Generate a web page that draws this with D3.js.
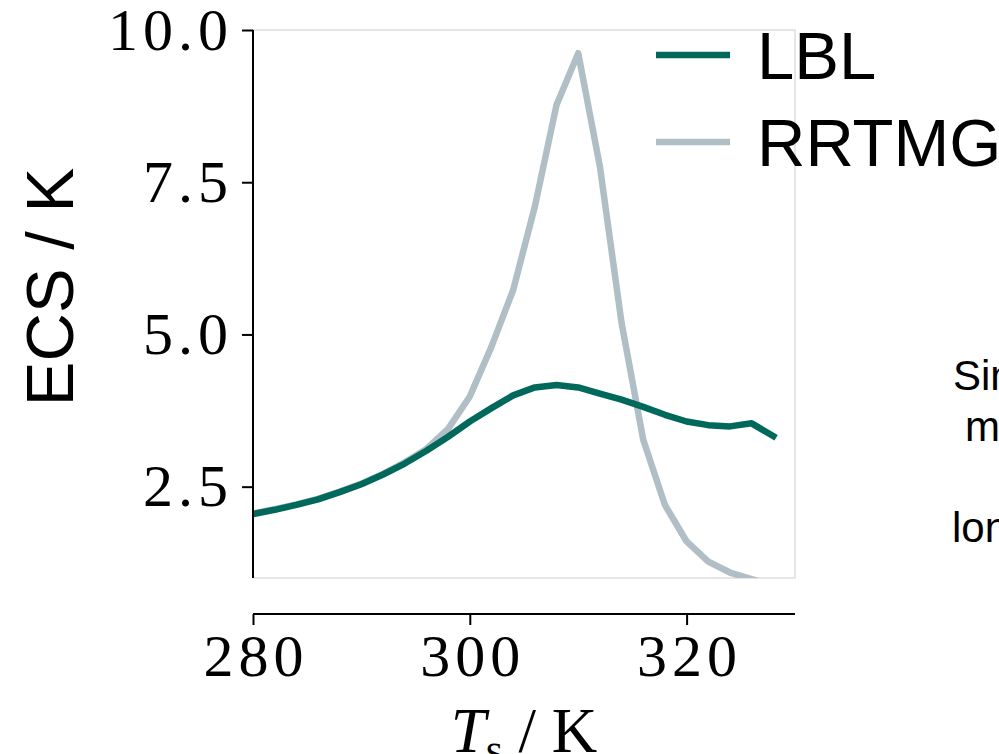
<!DOCTYPE html>
<html>
<head>
<meta charset="utf-8">
<script src="https://cdn.jsdelivr.net/npm/d3@7/dist/d3.min.js"></script>
<style>
  html, body { margin: 0; padding: 0; background: #fff; overflow: hidden; }
</style>
</head>
<body>
<div id="chart"></div>
<script>
// surface temperature (K)
const temps = [280, 282, 284, 286, 288, 290, 292, 294, 296, 298, 300, 302, 304,
               306, 308, 310, 312, 314, 316, 318, 320, 322, 324, 326, 328];
// ECS (K) per scheme
const lbl = [2.05, 2.12, 2.20, 2.29, 2.41, 2.54, 2.70, 2.88, 3.09, 3.32, 3.57, 3.79, 4.00,
             4.13, 4.17, 4.13, 4.03, 3.93, 3.81, 3.68, 3.57, 3.51, 3.49, 3.54, 3.33];
const rrtmg = [2.06, 2.13, 2.21, 2.30, 2.42, 2.55, 2.71, 2.90, 3.12, 3.45, 3.98, 4.80, 5.73,
               7.10, 8.77, 9.62, 7.76, 5.19, 3.27, 2.20, 1.60, 1.27, 1.09, 0.98, 0.88];
const seriesNames = ["LBL", "RRTMG"];
const seriesColors = ["#00695c", "#b0bec5"];
const xTicks = [280, 300, 320];
const yTicks = [2.5, 5.0, 7.5, 10.0];
const sideText = ["Sin", "m", "", "lon"];

const W = 999, H = 754;
const margin = { top: 30, left: 253, right: 204, bottom: 176 };
const width = W - margin.left - margin.right;
const height = H - margin.top - margin.bottom;
const serif = "'Liberation Serif', 'Times New Roman', serif";
const sans = "'Liberation Sans', Arial, Helvetica, sans-serif";

var svg = d3.select("#chart").append("svg")
    .attr("width", W)
    .attr("height", H)
    .style("display", "block");

var g = svg.append("g")
    .attr("transform", "translate(" + margin.left + "," + margin.top + ")");

var x = d3.scaleLinear().domain([280, 330]).range([0, width]);
var y = d3.scaleLinear().domain([1, 10]).range([height, 0]);

// light frame around the axes area
g.append("rect")
    .attr("width", width)
    .attr("height", height)
    .attr("fill", "none")
    .attr("stroke", "#cccccc")
    .attr("stroke-width", 1);

svg.append("defs").append("clipPath")
    .attr("id", "plot-clip")
    .append("rect")
    .attr("width", width)
    .attr("height", height);

var data = [lbl, rrtmg].map((vals, i) => ({
    name: seriesNames[i],
    color: seriesColors[i],
    values: temps.map((t, j) => ({ t: t, v: vals[j] }))
}));

var line = d3.line().x(d => x(d.t)).y(d => y(d.v));

// RRTMG sits behind LBL
g.append("g").attr("clip-path", "url(#plot-clip)")
    .selectAll("path")
    .data(data.slice().reverse())
    .enter().append("path")
    .attr("d", d => line(d.values))
    .attr("fill", "none")
    .attr("stroke", d => d.color)
    .attr("stroke-width", 6.5)
    .attr("stroke-linejoin", "round")
    .attr("stroke-linecap", "square");

// left axis
var yAxis = g.append("g")
    .call(d3.axisLeft(y).tickValues(yTicks).tickSize(11).tickPadding(9).tickFormat(d3.format(".1f")));
yAxis.select(".domain").attr("stroke", "#000").attr("stroke-width", 2)
    .attr("d", "M0," + height + "V0");
yAxis.selectAll(".tick line").attr("stroke", "#000").attr("stroke-width", 2);
yAxis.selectAll(".tick text")
    .style("font-family", serif)
    .style("font-size", "60px")
    .style("letter-spacing", "5px")
    .attr("fill", "#000");

// bottom axis, offset below the frame
var xAxis = g.append("g")
    .attr("transform", "translate(0," + (height + 36) + ")")
    .call(d3.axisBottom(x).tickValues(xTicks).tickSize(11).tickPadding(14).tickFormat(d3.format("d")));
xAxis.select(".domain").attr("stroke", "#000").attr("stroke-width", 2)
    .attr("d", "M0,0H" + width);
xAxis.selectAll(".tick line").attr("stroke", "#000").attr("stroke-width", 2);
xAxis.selectAll(".tick text")
    .style("font-family", serif)
    .style("font-size", "60px")
    .style("letter-spacing", "5px")
    .attr("fill", "#000")
    .attr("dx", 2.5)
    .attr("dy", "0.62em");

// axis labels
var xl = svg.append("text")
    .attr("x", margin.left + width / 2)
    .attr("y", 752)
    .attr("text-anchor", "middle")
    .style("font-family", serif)
    .style("font-size", "63px")
    .attr("fill", "#000");
xl.append("tspan").style("font-style", "italic").text("T");
xl.append("tspan").attr("dy", 12).style("font-size", "44px").text("s");
xl.append("tspan").attr("dy", -12).text(" / K");

svg.append("text")
    .attr("transform", "translate(73,287) rotate(-90)")
    .attr("text-anchor", "middle")
    .style("font-family", sans)
    .style("font-size", "67px")
    .attr("fill", "#000")
    .text("ECS / K");

// legend
var legend = svg.append("g").selectAll("g")
    .data(data)
    .enter().append("g")
    .attr("transform", (d, i) => "translate(656," + (79 + i * 87) + ")");
legend.append("line")
    .attr("x1", 0).attr("x2", 74)
    .attr("y1", -24).attr("y2", -24)
    .attr("stroke", d => d.color)
    .attr("stroke-width", 6.5);
legend.append("text")
    .attr("x", 101)
    .style("font-family", sans)
    .style("font-size", "67px")
    .attr("fill", "#000")
    .text(d => d.name);

// annotation cut off at the right edge
var sx = [953, 965, 953, 952];
svg.append("g").selectAll("text")
    .data(sideText)
    .enter().append("text")
    .attr("x", (d, i) => sx[i])
    .attr("y", (d, i) => 390 + i * 50.5)
    .style("font-family", sans)
    .style("font-size", "42px")
    .attr("fill", "#000")
    .text(d => d);
</script>
</body>
</html>
